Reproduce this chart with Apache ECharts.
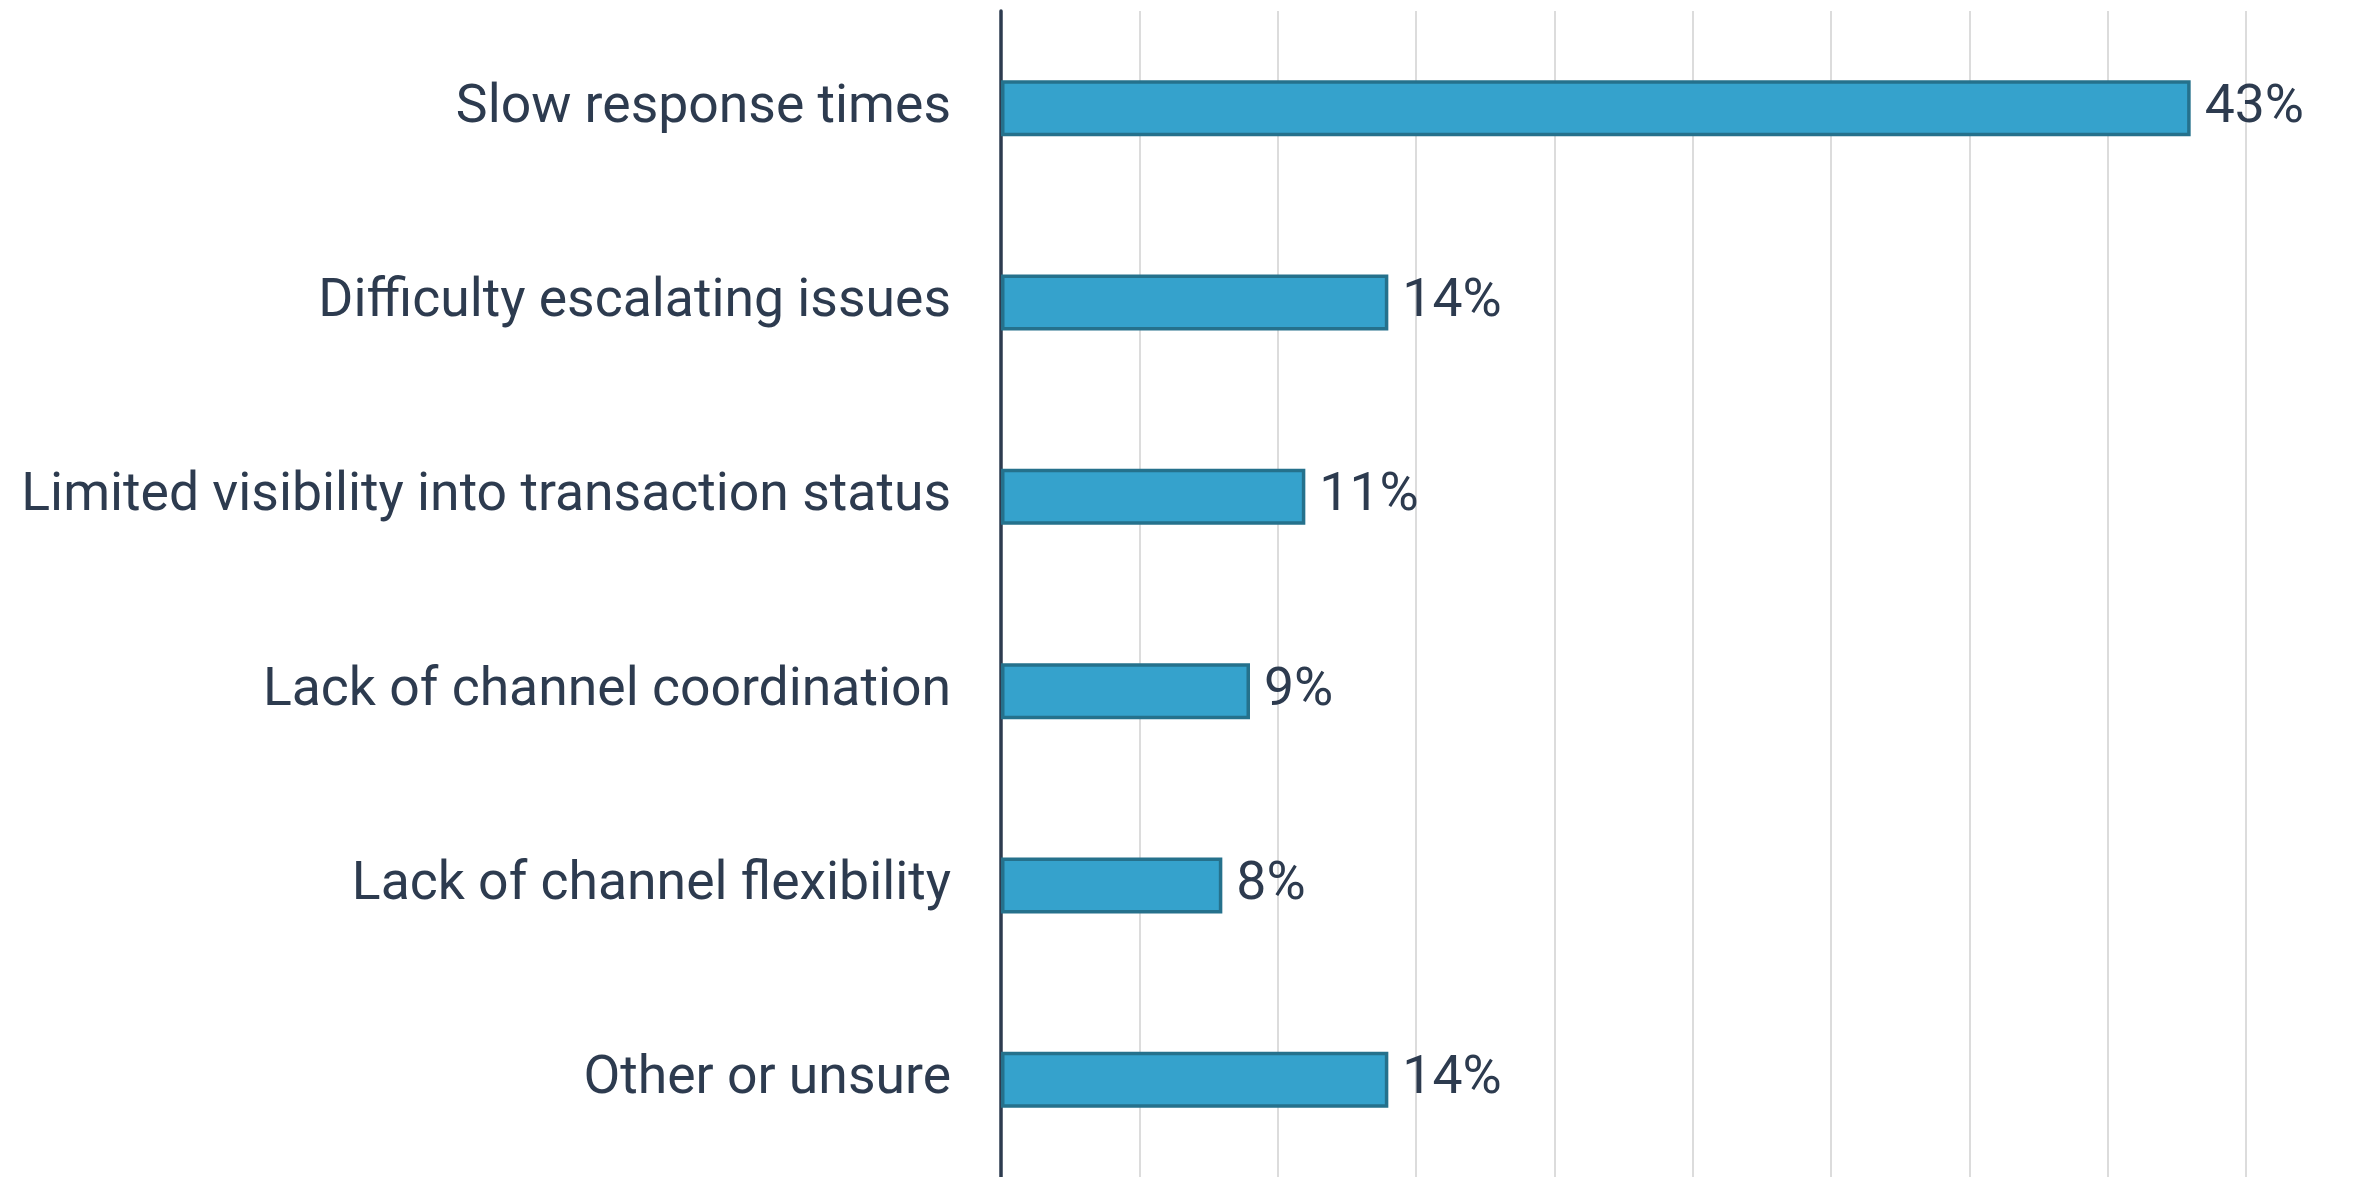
<!DOCTYPE html>
<html>
<head>
<meta charset="utf-8">
<script src="https://cdn.jsdelivr.net/npm/echarts@6/dist/echarts.min.js"></script>
<style>html,body{margin:0;padding:0;background:#fff}#c{width:2363px;height:1177px}</style>
</head>
<body>
<div id="c"></div>
<script>
const categories = [
  "Slow response times",
  "Difficulty escalating issues",
  "Limited visibility into transaction status",
  "Lack of channel coordination",
  "Lack of channel flexibility",
  "Other or unsure"
];
const values = [43, 14, 11, 9, 8, 14];
const axisMin = 0, axisMax = 45, axisInterval = 5;

const chart = echarts.init(document.getElementById('c'), null, {renderer: 'canvas'});
chart.setOption({
  backgroundColor: '#ffffff',
  animation: false,
  grid: {left: 1001, right: 117, top: 11, bottom: -6, containLabel: false},
  xAxis: {
    type: 'value', min: axisMin, max: axisMax, interval: axisInterval,
    axisLabel: {show: false}, axisTick: {show: false}, axisLine: {show: false},
    splitLine: {show: true, lineStyle: {color: '#dcdcdc', width: 2}}
  },
  yAxis: {
    type: 'category', data: categories, inverse: true,
    axisTick: {show: false},
    axisLine: {show: true, lineStyle: {color: '#2d3b4f', width: 3.5}},
    axisLabel: {fontFamily: 'Roboto', fontSize: 53.5, color: '#2d3b4f', margin: 50,
      padding: [6, 0, 0, 0]}
  },
  series: [{
    type: 'bar', data: values, barWidth: 56,
    itemStyle: {color: '#35a2cc', borderColor: '#25718c', borderWidth: 3.5},
    label: {show: true, position: 'right', distance: 14, formatter: '{c}%',
      fontFamily: 'Roboto', fontSize: 53.5, color: '#2d3b4f', padding: [6, 0, 0, 0]}
  }]
});
</script>
</body>
</html>
